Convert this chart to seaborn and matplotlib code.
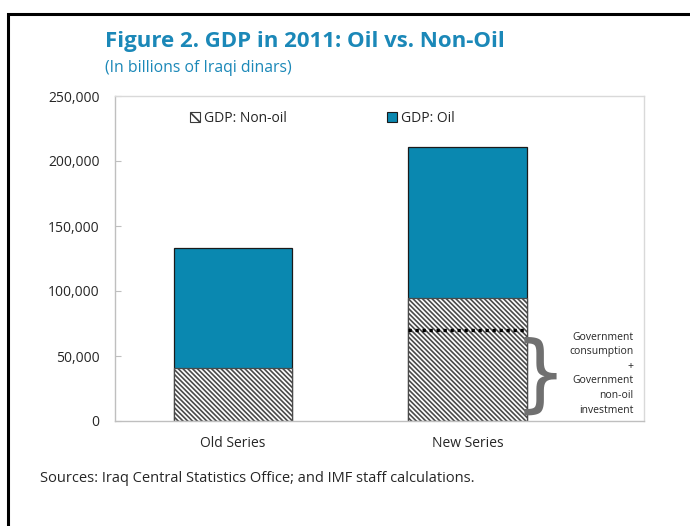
import matplotlib
matplotlib.use("Agg")
import matplotlib.pyplot as plt
from matplotlib.patches import Patch, Rectangle
from matplotlib.ticker import FuncFormatter
import seaborn as sns

# GDP in 2011, billions of Iraqi dinars
categories = ["Old Series", "New Series"]
gdp_non_oil = [41000, 95000]
gdp_oil = [92000, 116000]
gdp_total = [n + o for n, o in zip(gdp_non_oil, gdp_oil)]
gov_spending_new = 70000  # government consumption + non-oil investment

yticks = [0, 50000, 100000, 150000, 200000, 250000]

OIL_COLOR = "#0A88B0"
TITLE_COLOR = "#1B88B8"
TEXT_COLOR = "#262626"
HATCH = "\\" * 7

sns.set_theme(style="white")
plt.rcParams["font.family"] = ["Open Sans", "DejaVu Sans"]
plt.rcParams["hatch.linewidth"] = 1.2

W, H = 690, 526
fig = plt.figure(figsize=(W / 100, H / 100), dpi=100)

def fx(px):
    return px / W

def fy(py):
    return 1 - py / H

ax = fig.add_axes([fx(115), fy(421), (644 - 115) / W, (421 - 96) / H])

# stacked bars: total (oil on top) then non-oil part hatched over it
sns.barplot(x=categories, y=gdp_total, color=OIL_COLOR, saturation=1,
            width=0.505, edgecolor="#1a1a1a", linewidth=0.9, ax=ax)
sns.barplot(x=categories, y=gdp_non_oil, color="white", saturation=1,
            width=0.505, edgecolor="#4a4a4a", linewidth=0.9, hatch=HATCH, ax=ax)
for p in ax.patches[2:]:
    p.set_edgecolor("#4a4a4a")

# dotted marker for government spending within the new series
ax.hlines(gov_spending_new, 1 - 0.2525, 1 + 0.2525, colors="black",
          linestyles=(0, (1, 1.1)), linewidth=2.4, zorder=5)

ax.set_xlim(-0.503, 1.753)
ax.set_ylim(0, 250000)
ax.set_yticks(yticks)
ax.yaxis.set_major_formatter(FuncFormatter(lambda v, _: f"{int(v):,}"))
ax.set_xlabel("")
ax.set_ylabel("")
ax.tick_params(axis="y", direction="in", length=4, width=0.8, color="#BFBFBF",
               pad=11, labelsize=10, labelcolor=TEXT_COLOR, left=True)
ax.tick_params(axis="x", length=0, pad=11, labelsize=10, labelcolor=TEXT_COLOR)
for side in ["left", "bottom"]:
    ax.spines[side].set_color("#BFBFBF")
    ax.spines[side].set_linewidth(1.0)
for side in ["top", "right"]:
    ax.spines[side].set_color("#D9D9D9")
    ax.spines[side].set_linewidth(1.0)

# brace and annotation to the right of the new series bar
ax.text(1.31, 33500, "}", fontsize=60, color="#707070", ha="center",
        va="center", family="DejaVu Sans")
ax.text(1.708, 36500,
        "Government\nconsumption\n+\nGovernment\nnon-oil\ninvestment",
        fontsize=7.5, color=TEXT_COLOR, ha="right", va="center", linespacing=1.45)

# legend
handles = [
    Patch(facecolor="white", edgecolor="#3a3a3a", hatch="\\\\\\", linewidth=0.8,
          label="GDP: Non-oil"),
    Patch(facecolor=OIL_COLOR, edgecolor="#1a1a1a", linewidth=0.8, label="GDP: Oil"),
]
fig.legend(handles=handles, loc="center left", bbox_to_anchor=(fx(190), fy(118)),
           ncol=2, frameon=False, fontsize=10, handlelength=0.75, handleheight=0.75,
           handletextpad=0.25, columnspacing=7.2, borderpad=0, borderaxespad=0,
           labelcolor=TEXT_COLOR)

# titles and source
fig.text(fx(105), fy(42), "Figure 2. GDP in 2011: Oil vs. Non-Oil", fontsize=16,
         fontweight="bold", color=TITLE_COLOR, ha="left", va="center")
fig.text(fx(105), fy(68), "(In billions of Iraqi dinars)", fontsize=11.3,
         color=TITLE_COLOR, ha="left", va="center")
fig.text(fx(40), fy(478), "Sources: Iraq Central Statistics Office; and IMF staff calculations.",
         fontsize=10.5, color=TEXT_COLOR, ha="left", va="center")

# outer frame
fig.add_artist(Rectangle((fx(8), -0.1), 1.2, fy(14) + 0.1, transform=fig.transFigure,
                         fill=False, edgecolor="black", linewidth=2.2))

fig.savefig("out.png", dpi=100)
